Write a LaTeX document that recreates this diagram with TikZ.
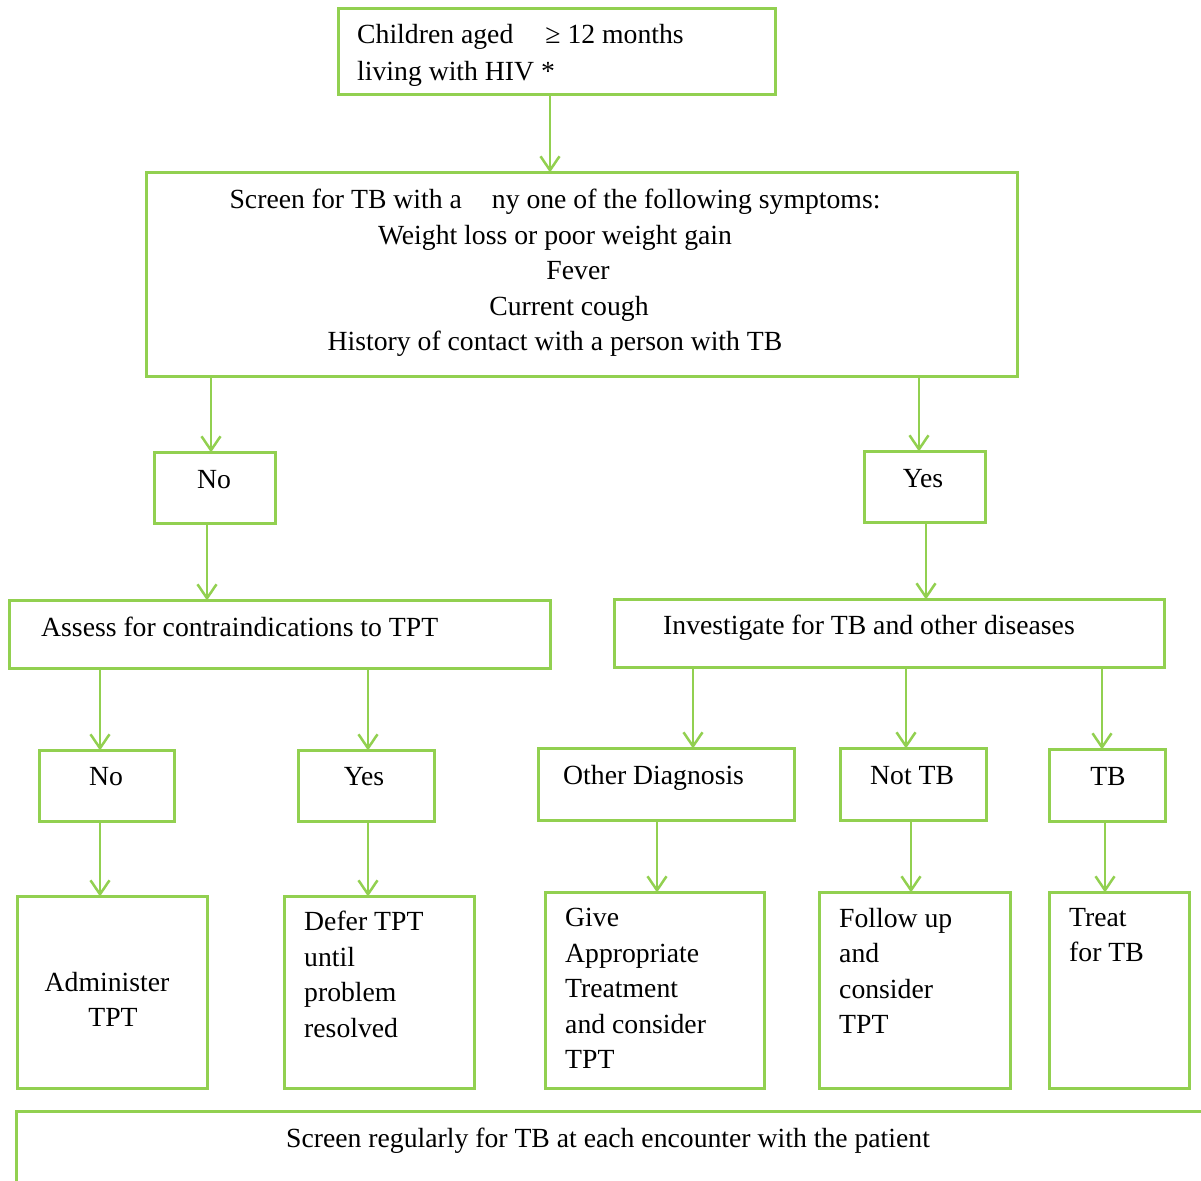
\documentclass[tikz,border=0pt]{standalone}
\usepackage{fontspec}
\setmainfont{Liberation Serif}
\usetikzlibrary{arrows.meta}
\definecolor{tbgreen}{HTML}{92D050}

\begin{document}
\begin{tikzpicture}[x=1pt,y=-1pt,
    box/.style={draw=tbgreen,line width=3.5pt,anchor=north west,inner sep=0pt,outer sep=0pt},
    txt/.style={inner sep=0pt,font=\fontsize{27.7pt}{35.5pt}\selectfont},
    arr/.style={draw=tbgreen,line width=2.5pt,-{Straight Barb[length=14pt,width=19pt]}}]
  \newcommand{\flowbox}[5]{\node[box,minimum width=#4pt-3pt,minimum height=#5pt-3pt] (#1) at (#2+1.5,#3+1.5) {};}
  \newcommand{\flowlink}[3]{\draw[arr] (#1.south -| #3,0) -- (#2.north -| #3,0);}
  \useasboundingbox (0,0) rectangle (1201,1180);
  %\draw[red] (0,0) rectangle (1201,1180);
  \flowbox{child}{337}{7}{440}{89}
  \flowbox{screen}{145}{171}{874}{207}
  \flowbox{no}{153}{451}{124}{74}
  \flowbox{yes}{863}{450}{124}{74}
  \flowbox{assess}{8}{599}{544}{71}
  \flowbox{invest}{613}{598}{553}{71}
  \flowbox{notpt}{38}{749}{138}{74}
  \flowbox{yestpt}{297}{749}{139}{74}
  \flowbox{other}{537}{747}{259}{75}
  \flowbox{nottb}{839}{747}{149}{75}
  \flowbox{tb}{1048}{748}{119}{75}
  \flowbox{admin}{16}{895}{193}{195}
  \flowbox{defer}{283}{895}{193}{195}
  \flowbox{give}{544}{891}{222}{199}
  \flowbox{follow}{818}{891}{194}{199}
  \flowbox{treat}{1048}{891}{143}{199}
  \flowbox{regular}{15}{1110}{1250}{150}

  \node[txt,anchor=north west,align=left,font=\fontsize{27.7pt}{37pt}\selectfont] (child-t) at (357,24)
    {Children aged\hspace*{32pt}≥ 12 months\\living with HIV *};
  \node[txt,anchor=north,align=center] (screen-t) at (555,189)
    {Screen for TB with a\hspace*{30pt}ny one of the following symptoms:\\
     Weight loss or poor weight gain\\
     \hspace*{46pt}Fever\\
     \hspace*{28pt}Current cough\\
     History of contact with a person with TB};
  \node[txt,anchor=base] (no-t) at (214,488) {No};
  \node[txt,anchor=base] (yes-t) at (923,487) {Yes};
  \node[txt,anchor=base west] (assess-t) at (41,636) {Assess for contraindications to TPT};
  \node[txt,anchor=base west] (invest-t) at (663,634) {Investigate for TB and other diseases};
  \node[txt,anchor=base] (notpt-t) at (106,785) {No};
  \node[txt,anchor=base] (yestpt-t) at (364,785) {Yes};
  \node[txt,anchor=base west] (other-t) at (563,784) {Other Diagnosis};
  \node[txt,anchor=base west] (nottb-t) at (870,784) {Not TB};
  \node[txt,anchor=base] (tb-t) at (1108,785) {TB};
  \node[txt,anchor=north,align=center] (admin-t) at (107,972) {Administer\\\hspace*{12pt}TPT};
  \node[txt,anchor=north west,align=left] (defer-t) at (304,911) {Defer TPT\\until\\problem\\resolved};
  \node[txt,anchor=north west,align=left] (give-t) at (565,908)
    {Give\\Appropriate\\Treatment\\and consider\\TPT};
  \node[txt,anchor=north west,align=left] (follow-t) at (839,908) {Follow up\\and\\consider\\TPT};
  \node[txt,anchor=north west,align=left] (treat-t) at (1069,908) {Treat\\for TB};
  \node[txt,anchor=base] (regular-t) at (608,1147) {Screen regularly for TB at each encounter with the patient};

  \flowlink{child}{screen}{550}
  \flowlink{screen}{no}{211}
  \flowlink{screen}{yes}{919}
  \flowlink{no}{assess}{207}
  \flowlink{yes}{invest}{926}
  \flowlink{assess}{notpt}{100}
  \flowlink{assess}{yestpt}{368}
  \flowlink{invest}{other}{693}
  \flowlink{invest}{nottb}{906}
  \flowlink{invest}{tb}{1102}
  \flowlink{notpt}{admin}{100}
  \flowlink{yestpt}{defer}{368}
  \flowlink{other}{give}{657}
  \flowlink{nottb}{follow}{911}
  \flowlink{tb}{treat}{1105}
\end{tikzpicture}
\end{document}
